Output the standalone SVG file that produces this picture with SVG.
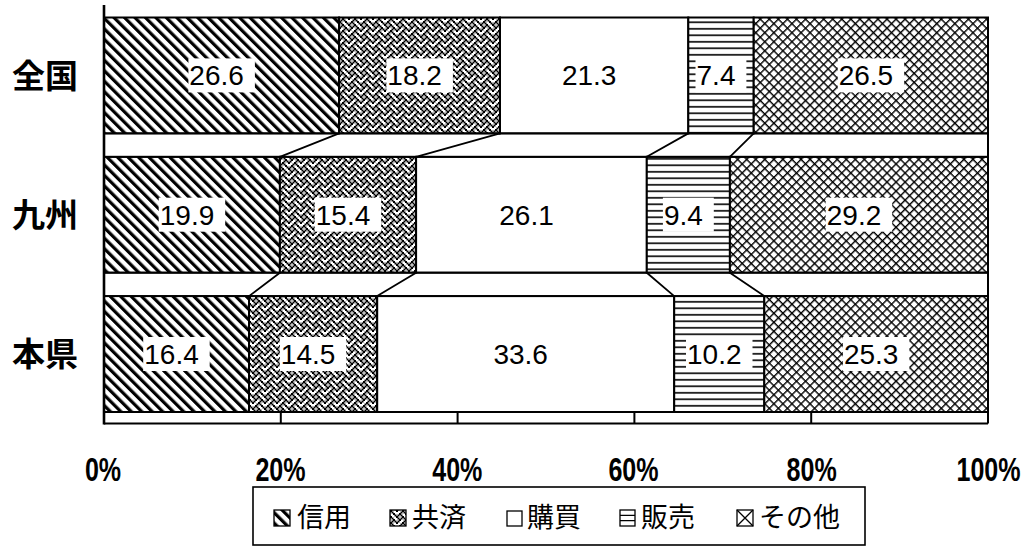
<svg xmlns="http://www.w3.org/2000/svg" width="1028" height="547" viewBox="0 0 1028 547">
<defs>
<pattern id="hatchD" patternUnits="userSpaceOnUse" width="7.4" height="7.4" patternTransform="rotate(-45)">
<rect width="7.4" height="7.4" fill="#fff"/>
<rect x="0" y="0" width="3.2" height="7.4" fill="#000"/>
</pattern>
<pattern id="weave" patternUnits="userSpaceOnUse" width="12" height="12">
<rect width="12" height="12" fill="#fff"/>
<g fill="#000">
<rect x="0" y="0" width="2" height="2"/><rect x="6" y="0" width="2" height="2"/>
<rect x="1.5" y="1.5" width="2" height="2"/><rect x="4.5" y="1.5" width="2" height="2"/><rect x="7.5" y="1.5" width="2" height="2"/>
<rect x="3" y="3" width="2" height="2"/><rect x="9" y="3" width="2" height="2"/>
<rect x="1.5" y="4.5" width="2" height="2"/><rect x="7.5" y="4.5" width="2" height="2"/><rect x="10.5" y="4.5" width="1.5" height="2"/><rect x="0" y="4.5" width="0.5" height="2"/>
<rect x="0" y="6" width="2" height="2"/><rect x="6" y="6" width="2" height="2"/>
<rect x="4.5" y="7.5" width="2" height="2"/><rect x="7.5" y="7.5" width="2" height="2"/>
<rect x="3" y="9" width="2" height="2"/><rect x="9" y="9" width="2" height="2"/>
<rect x="1.5" y="10.5" width="2" height="1.5"/><rect x="4.5" y="10.5" width="2" height="1.5"/><rect x="10.5" y="10.5" width="1.5" height="1.5"/>
<rect x="1.5" y="0" width="2" height="0.5"/><rect x="4.5" y="0" width="2" height="0.5"/><rect x="10.5" y="0" width="1.5" height="0.5"/><rect x="0" y="10.5" width="0.5" height="1.5"/><rect x="0" y="0" width="0.5" height="0.5"/>
</g>
</pattern>
<pattern id="horiz" patternUnits="userSpaceOnUse" width="10" height="6.5">
<rect width="10" height="6.5" fill="#fff"/>
<rect x="0" y="2" width="10" height="1.6" fill="#000"/>
</pattern>
<pattern id="cross" patternUnits="userSpaceOnUse" width="6.4" height="6.4" patternTransform="rotate(45)">
<rect width="6.4" height="6.4" fill="#fff"/>
<rect x="0" y="0" width="1.4" height="6.4" fill="#000"/>
<rect x="0" y="0" width="6.4" height="1.4" fill="#000"/>
</pattern>
</defs>
<style>
.seg{stroke:#000;stroke-width:2}
.lbox{fill:#fff;stroke:none}
.val{font-family:"Liberation Sans",Arial,sans-serif;font-size:28px;fill:#000;text-anchor:middle}
.cat{font-family:"Noto Sans CJK JP","Noto Sans CJK SC",sans-serif;font-size:33px;font-weight:bold;fill:#000}
.tick{font-family:"Liberation Sans",Arial,sans-serif;font-size:33px;font-weight:bold;fill:#000;text-anchor:middle}
.leg{font-family:"Noto Sans CJK JP","Noto Sans CJK SC",sans-serif;font-size:27px;fill:#000}
.ax{stroke:#000;stroke-width:2;fill:none}
.sl{stroke:#000;stroke-width:1.8;fill:none}
.ico{stroke:#000;stroke-width:1.3}
</style>
<rect width="1028" height="547" fill="#fff"/>

<g id="bar-zenkoku">
<rect class="seg" x="104" y="17.5" width="235.1" height="115.9" fill="url(#hatchD)"/>
<rect class="seg" x="339.1" y="17.5" width="160.9" height="115.9" fill="url(#weave)"/>
<rect class="seg" x="500" y="17.5" width="188.3" height="115.9" fill="#fff"/>
<rect class="seg" x="688.3" y="17.5" width="65.4" height="115.9" fill="url(#horiz)"/>
<rect class="seg" x="753.7" y="17.5" width="234.3" height="115.9" fill="url(#cross)"/>
<rect class="lbox" x="188.4" y="58.4" width="66.5" height="34"/>
<rect class="lbox" x="386.4" y="58.4" width="66.5" height="34"/>
<rect class="lbox" x="695.5" y="58.4" width="50.9" height="34"/>
<rect class="lbox" x="837.7" y="58.4" width="66.5" height="34"/>
<text class="val" x="216.6" y="85.4">26.6</text>
<text class="val" x="414.6" y="85.4">18.2</text>
<text class="val" x="589.2" y="85.4">21.3</text>
<text class="val" x="716" y="85.4">7.4</text>
<text class="val" x="865.9" y="85.4">26.5</text>
</g>

<g id="bar-kyushu">
<rect class="seg" x="104" y="156.8" width="175.9" height="115.9" fill="url(#hatchD)"/>
<rect class="seg" x="279.9" y="156.8" width="136.2" height="115.9" fill="url(#weave)"/>
<rect class="seg" x="416.1" y="156.8" width="230.7" height="115.9" fill="#fff"/>
<rect class="seg" x="646.8" y="156.8" width="83.1" height="115.9" fill="url(#horiz)"/>
<rect class="seg" x="729.9" y="156.8" width="258.1" height="115.9" fill="url(#cross)"/>
<rect class="lbox" x="158.7" y="197.7" width="66.5" height="34"/>
<rect class="lbox" x="314.7" y="197.7" width="66.5" height="34"/>
<rect class="lbox" x="662.9" y="197.7" width="50.9" height="34"/>
<rect class="lbox" x="825.7" y="197.7" width="66.5" height="34"/>
<text class="val" x="187" y="224.7">19.9</text>
<text class="val" x="343" y="224.7">15.4</text>
<text class="val" x="526.5" y="224.7">26.1</text>
<text class="val" x="683.4" y="224.7">9.4</text>
<text class="val" x="854" y="224.7">29.2</text>
</g>

<g id="bar-honken">
<rect class="seg" x="104" y="296.1" width="145" height="115.9" fill="url(#hatchD)"/>
<rect class="seg" x="249" y="296.1" width="128.2" height="115.9" fill="url(#weave)"/>
<rect class="seg" x="377.2" y="296.1" width="297" height="115.9" fill="#fff"/>
<rect class="seg" x="674.2" y="296.1" width="90.1" height="115.9" fill="url(#horiz)"/>
<rect class="seg" x="764.3" y="296.1" width="223.7" height="115.9" fill="url(#cross)"/>
<rect class="lbox" x="143.2" y="337" width="66.5" height="34"/>
<rect class="lbox" x="279.8" y="337" width="66.5" height="34"/>
<rect class="lbox" x="686" y="337" width="66.5" height="34"/>
<rect class="lbox" x="842.9" y="337" width="66.5" height="34"/>
<text class="val" x="171.5" y="364">16.4</text>
<text class="val" x="308.1" y="364">14.5</text>
<text class="val" x="520.7" y="364">33.6</text>
<text class="val" x="714.3" y="364">10.2</text>
<text class="val" x="871.2" y="364">25.3</text>
</g>

<g id="connectors">
<path class="sl" d="M339.1,133.4 L279.9,156.8 M500,133.4 L416.1,156.8 M688.3,133.4 L646.8,156.8 M753.7,133.4 L729.9,156.8"/>
<path class="sl" d="M279.9,272.7 L249,296.1 M416.1,272.7 L377.2,296.1 M646.8,272.7 L674.2,296.1 M729.9,272.7 L764.3,296.1"/>
<path class="sl" d="M104,133.4 H988 M104,156.8 H988 M104,272.7 H988 M104,296.1 H988"/>
</g>

<g id="axis">
<path class="ax" d="M988,17.5 V423.5"/>
<path class="ax" d="M104,412 H988 M104,423.5 H988 M280.8,412 V423.5 M457.6,412 V423.5 M634.4,412 V423.5 M811.2,412 V423.5"/>
<path d="M104,5 V424.5" stroke="#000" stroke-width="2.6"/>
<text class="tick" transform="translate(103,481) scale(0.76,1)">0%</text>
<text class="tick" transform="translate(280.5,481) scale(0.76,1)">20%</text>
<text class="tick" transform="translate(457.3,481) scale(0.76,1)">40%</text>
<text class="tick" transform="translate(633.5,481) scale(0.76,1)">60%</text>
<text class="tick" transform="translate(811.7,481) scale(0.76,1)">80%</text>
<text class="tick" transform="translate(988.5,481) scale(0.76,1)">100%</text>
</g>

<g id="categories">
<text class="cat" x="12" y="87.8">全国</text>
<text class="cat" x="12" y="227">九州</text>
<text class="cat" x="12" y="366.4">本県</text>
</g>

<g id="legend">
<rect x="253" y="487" width="612" height="58" fill="#fff" stroke="#000" stroke-width="1.6"/>
<rect class="ico" x="274" y="510" width="16" height="16" fill="url(#hatchD)"/>
<text class="leg" x="297" y="527">信用</text>
<rect class="ico" x="390" y="510" width="16" height="16" fill="url(#weave)"/>
<text class="leg" x="412" y="527">共済</text>
<rect class="ico" x="507" y="511" width="15" height="15" fill="#fff"/>
<text class="leg" x="527" y="527">購買</text>
<rect class="ico" x="620" y="510" width="15" height="16" fill="#fff"/>
<path class="ico" d="M620,515.3 H635 M620,520.7 H635"/>
<text class="leg" x="641" y="527">販売</text>
<rect class="ico" x="737" y="510" width="16" height="16" fill="#fff"/>
<path class="ico" d="M737,510 L753,526 M753,510 L737,526"/>
<text class="leg" x="759" y="527">その他</text>
</g>
</svg>
